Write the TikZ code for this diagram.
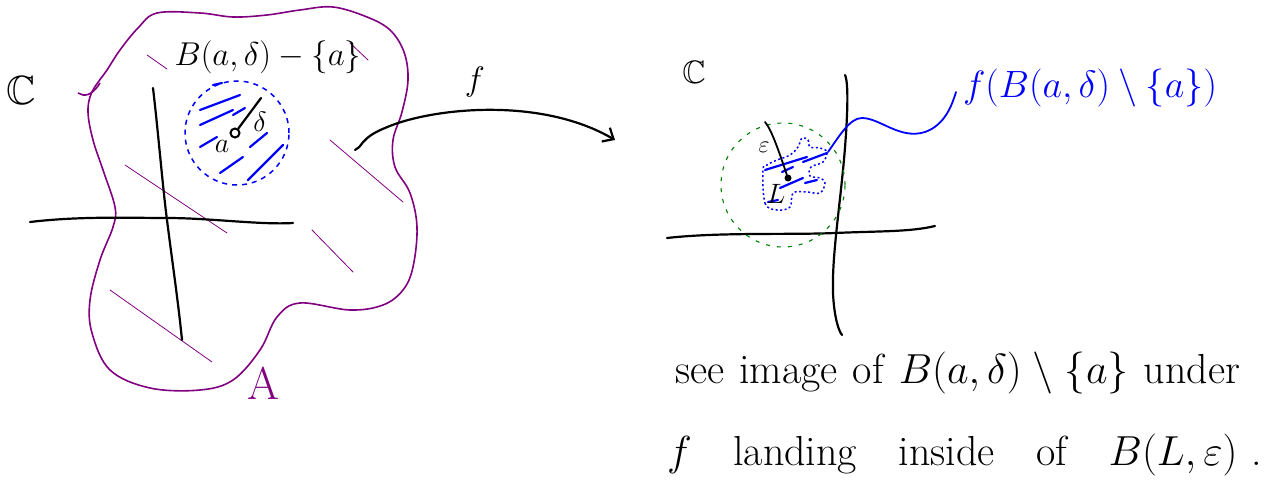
\RequirePackage{fix-cm}
\documentclass[tikz,border=0pt]{standalone}
\usepackage{amssymb}
\usepackage{fontspec}
\usetikzlibrary{arrows.meta}
\definecolor{hpurple}{RGB}{128,0,128}
\definecolor{hblue}{RGB}{0,0,255}
\definecolor{hgreen}{RGB}{0,128,0}
\begin{document}
\begin{tikzpicture}[x=1pt,y=-1pt,
  ink/.style={line width=2.2pt,line cap=round,line join=round},
  region/.style={hpurple,line width=1.6pt,line join=round},
  shade/.style={hpurple,line width=0.8pt,line cap=round},
  bshade/.style={hblue,line width=2.2pt,line cap=round},
  ballb/.style={hblue,line width=1.5pt,dash pattern=on 5pt off 5pt},
  ballg/.style={hgreen,line width=1.1pt,dash pattern=on 4pt off 7pt},
  blobb/.style={hblue,line width=1.5pt,dash pattern=on 2pt off 2.5pt},
  hw/.style={inner sep=0pt,outer sep=0pt},
  note/.style={hw,anchor=base west,font=\fontsize{42}{44}\selectfont},
]
\useasboundingbox (0,0) rectangle (1283,503);

% ---------- left panel ----------
\draw[region] plot[smooth cycle,tension=0.6] coordinates {
 (157,13) (200,13) (233,17) (267,15) (300,10) (333,7) (367,17) (390,30)
 (404,52) (408,80) (402,112) (393,140) (395,167) (410,193) (417,227)
 (413,267) (403,290) (383,305) (350,310) (300,303) (277,317) (260,350)
 (233,380) (200,390) (150,388) (110,370) (92,333) (90,300) (100,260)
 (113,227) (115,207) (103,170) (93,140) (88,112) (92,92) (107,70)
 (120,50) (138,28)};
\draw[region] (78,93) .. controls (84,97) and (92,96) .. (100,83);

\draw[shade] (147,55) -- (167,69);
\draw[shade] (125,165) -- (227,233);
\draw[shade] (110,290) -- (212,362);
\draw[shade] (330,140) -- (403,202);
\draw[shade] (312,230) -- (353,272);
\draw[shade] (350,43) -- (368,60);

\draw[ink] (30,222) .. controls (80,216) and (130,218) .. (167,218)
           .. controls (210,218) and (260,225) .. (293,223);
\draw[ink] (153,88) .. controls (158,130) and (163,190) .. (167,220)
           .. controls (172,260) and (178,300) .. (182,340);

\node[hw,scale=1.7,font=\fontsize{24}{26}\selectfont] (C1) at (21,90) {$\mathbb{C}$};
\node[hw,font=\fontsize{33}{35}\selectfont] (Bl) at (268,57) {$B(a,\delta)-\{a\}$};
\node[hw,hpurple,font=\fontsize{46}{48}\selectfont] (A) at (263,383) {A};

\node[ballb,circle,draw,minimum size=104pt] (ballL) at (237,133) {};
\draw[bshade] (200,110) -- (240,95);
\draw[bshade] (213,85) -- (222,83);
\draw[bshade] (200,125) -- (233,110);
\draw[bshade] (233,115) -- (245,108);
\draw[bshade] (200,147) -- (217,137);
\draw[bshade] (250,147) -- (267,133);
\draw[bshade] (220,173) -- (243,157);
\draw[bshade] (248,180) -- (283,145);

\node[circle,draw,line width=2pt,minimum size=9pt,inner sep=0pt] (pa) at (235,133) {};
\coordinate (rd) at (261,98);
\draw[ink] (pa) -- (rd);
\node[hw,font=\fontsize{28}{30}\selectfont] (dl) at (260,122) {$\delta$};
\node[hw,font=\fontsize{28}{30}\selectfont] (al) at (222,146) {$a$};

% ---------- map f ----------
\coordinate (fs) at (355,150);
\coordinate (fe) at (615,140);
\draw[ink,-{Straight Barb[length=9pt,width=16pt,line width=2.2pt]}]
  (fs) .. controls (362,148) and (360,138) .. (385,128)
       .. controls (430,108) and (540,96) .. (fe);
\node[hw,font=\fontsize{34}{36}\selectfont] (fl) at (475,82) {$f$};

% ---------- right panel ----------
\node[hw,scale=1.35,font=\fontsize{24}{26}\selectfont] (C2) at (694,72) {$\mathbb{C}$};
\draw[ink] (667,238) .. controls (720,232) and (790,235) .. (835,233)
           .. controls (880,231) and (910,232) .. (935,226);
\draw[ink] (845,75) .. controls (850,85) and (846,140) .. (843,170)
           .. controls (838,220) and (832,260) .. (833,293)
           .. controls (834,315) and (838,330) .. (842,335);

\node[ballg,circle,draw,minimum size=124pt] (ballR) at (783,185) {};
\draw[blobb] plot[smooth cycle,tension=0.6] coordinates {
 (763,170) (765,203) (777,210) (790,207) (793,193) (807,192) (820,193)
 (825,183) (820,178) (810,176) (811,167) (823,162) (827,152) (820,148)
 (810,147) (808,140) (802,138) (798,147) (790,155) (777,160) (767,165)};
\draw[bshade] (765,170) -- (807,157);
\draw[bshade] (803,162) -- (827,153);
\draw[bshade] (780,188) -- (803,178);
\draw[bshade] (805,183) -- (817,180);
\draw[bshade] (768,202) -- (778,200);
\draw[bshade] (782,172) -- (793,167);

\node[circle,fill,minimum size=7pt,inner sep=0pt] (L) at (788,178) {};
\coordinate (re) at (765,122);
\draw[ink,line width=1.8pt] (re) .. controls (772,130) and (780,155) .. (L);
\node[hw,font=\fontsize{24}{26}\selectfont] (el) at (764,147) {$\varepsilon$};
\node[hw,font=\fontsize{28}{30}\selectfont] (Ll) at (776,194) {$L$};

\coordinate (lead) at (828,152);
\node[hw,hblue,font=\fontsize{38}{40}\selectfont] (img) at (1090,88)
  {$f\bigl(B(a,\delta)\setminus\{a\}\bigr)$};
\draw[hblue,line width=1.8pt,line cap=round]
  (lead) .. controls (840,135) and (850,118) .. (862,118)
  .. controls (880,118) and (900,140) .. (925,132)
  .. controls (945,125) and (952,105) .. (956,92);

% ---------- note ----------
\node[note] (n1) at (675,383)
  {\makebox[565pt][s]{see image of $B(a,\delta)\setminus\{a\}$ under}};
\node[note] (n2) at (667,465)
  {\makebox[595pt][s]{\spaceskip=0.33em plus 1fil\relax
   $f$ landing inside of $B(L,\varepsilon)$\hspace{14pt}.}};
\end{tikzpicture}
\end{document}
